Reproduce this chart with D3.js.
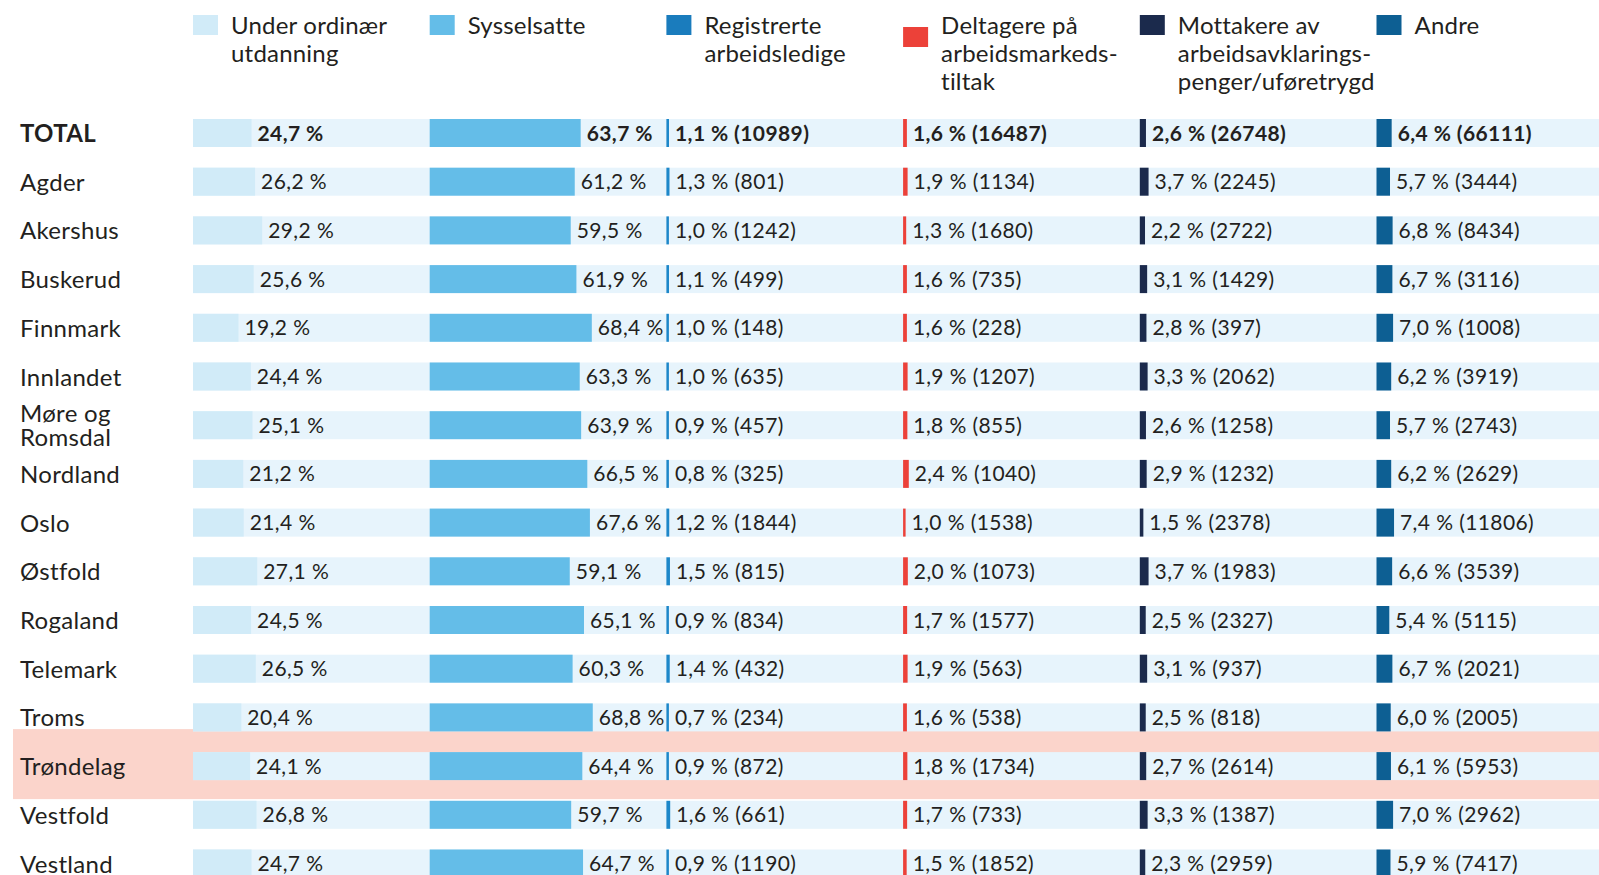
<!DOCTYPE html>
<html>
<head>
<meta charset="utf-8">
<script src="https://cdn.jsdelivr.net/npm/d3@7"></script>
<style>
  body { margin: 0; background: #fff; }
  svg { display: block; font-family: Lato, "Open Sans", sans-serif; }
  .label { font-size: 24px; fill: #231f20; letter-spacing: 0.3px; }
  .val { font-size: 21px; fill: #231f20; letter-spacing: 0.4px; }
  .legend { font-size: 24px; fill: #231f20; letter-spacing: 0.2px; }
  .bold { font-weight: 700; }
</style>
</head>
<body>
<div id="chart"></div>
<script>
// regions (rows)
let regions = ['TOTAL', 'Agder', 'Akershus', 'Buskerud', 'Finnmark', 'Innlandet', 'Møre og Romsdal',
    'Nordland', 'Oslo', 'Østfold', 'Rogaland', 'Telemark', 'Troms', 'Trøndelag', 'Vestfold', 'Vestland']

// shares in percent
let utdanning = [24.7, 26.2, 29.2, 25.6, 19.2, 24.4, 25.1, 21.2, 21.4, 27.1, 24.5, 26.5, 20.4, 24.1, 26.8, 24.7]
let sysselsatte = [63.7, 61.2, 59.5, 61.9, 68.4, 63.3, 63.9, 66.5, 67.6, 59.1, 65.1, 60.3, 68.8, 64.4, 59.7, 64.7]
let registrerte = [1.1, 1.3, 1.0, 1.1, 1.0, 1.0, 0.9, 0.8, 1.2, 1.5, 0.9, 1.4, 0.7, 0.9, 1.6, 0.9]
let deltagere = [1.6, 1.9, 1.3, 1.6, 1.6, 1.9, 1.8, 2.4, 1.0, 2.0, 1.7, 1.9, 1.6, 1.8, 1.7, 1.5]
let mottakere = [2.6, 3.7, 2.2, 3.1, 2.8, 3.3, 2.6, 2.9, 1.5, 3.7, 2.5, 3.1, 2.5, 2.7, 3.3, 2.3]
let andre = [6.4, 5.7, 6.8, 6.7, 7.0, 6.2, 5.7, 6.2, 7.4, 6.6, 5.4, 6.7, 6.0, 6.1, 7.0, 5.9]

// counts (persons)
let registrerteN = [10989, 801, 1242, 499, 148, 635, 457, 325, 1844, 815, 834, 432, 234, 872, 661, 1190]
let deltagereN = [16487, 1134, 1680, 735, 228, 1207, 855, 1040, 1538, 1073, 1577, 563, 538, 1734, 733, 1852]
let mottakereN = [26748, 2245, 2722, 1429, 397, 2062, 1258, 1232, 2378, 1983, 2327, 937, 818, 2614, 1387, 2959]
let andreN = [66111, 3444, 8434, 3116, 1008, 3919, 2743, 2629, 11806, 3539, 5115, 2021, 2005, 5953, 2962, 7417]

let legendLabels = [
    ['Under ordinær', 'utdanning'],
    ['Sysselsatte'],
    ['Registrerte', 'arbeidsledige'],
    ['Deltagere på', 'arbeidsmarkeds-', 'tiltak'],
    ['Mottakere av', 'arbeidsavklarings-', 'penger/uføretrygd'],
    ['Andre']
]
let highlight = 'Trøndelag'

let series = [
    { key: 'utd', pct: utdanning, n: null, color: '#d1ebf8' },
    { key: 'sys', pct: sysselsatte, n: null, color: '#64bde8' },
    { key: 'reg', pct: registrerte, n: registrerteN, color: '#1d87c9' },
    { key: 'del', pct: deltagere, n: deltagereN, color: '#ec4139' },
    { key: 'mot', pct: mottakere, n: mottakereN, color: '#1b2a4c' },
    { key: 'and', pct: andre, n: andreN, color: '#0d5f93' }
]

let svgWidth = 1599
let svgHeight = 875

let svg = d3.select('#chart').append('svg')
    .attr('width', svgWidth)
    .attr('height', svgHeight)

let col = d3.scaleBand()
    .domain(series.map(s => s.key))
    .range([193, 193 + 6 * 236.7])

let y = d3.scalePoint()
    .domain(regions)
    .range([133, 133 + 15 * 48.7])

let x = d3.scaleLinear()
    .domain([0, 10])
    .range([0, 23.7])

let bandH = 28
let fmt = v => d3.format('.1f')(v).replace('.', ',') + ' %'

// highlighted row
svg.append('rect')
    .attr('x', 13)
    .attr('y', y(highlight) - 37)
    .attr('width', svgWidth - 13)
    .attr('height', 70)
    .attr('fill', '#fbd4cb')

// row backgrounds
svg.append('g')
    .selectAll('rect')
    .data(regions)
    .enter()
    .append('rect')
    .attr('x', col('utd'))
    .attr('y', d => y(d) - bandH / 2)
    .attr('width', svgWidth - col('utd'))
    .attr('height', bandH)
    .attr('fill', '#e7f4fc')

// row labels
let labels = svg.append('g')
    .selectAll('text')
    .data(regions)
    .enter()
    .append('text')
    .attr('class', (d, i) => 'label' + (i == 0 ? ' bold' : ''))
    .attr('x', 20)
    .attr('y', d => y(d) + 9)
labels.each(function(d) {
    let t = d3.select(this)
    if (d == 'Møre og Romsdal') {
        t.attr('y', y(d) - 3)
        t.append('tspan').attr('x', 20).text('Møre og')
        t.append('tspan').attr('x', 20).attr('dy', 24).text('Romsdal')
    } else {
        t.text(d)
    }
})

// bars + values per column
series.forEach(s => {
    let g = svg.append('g')
        .attr('transform', `translate(${col(s.key)}, 0)`)

    g.selectAll('rect')
        .data(regions)
        .enter()
        .append('rect')
        .attr('x', 0)
        .attr('y', d => y(d) - bandH / 2)
        .attr('width', (d, i) => Math.max(2.5, x(s.pct[i])))
        .attr('height', bandH)
        .attr('fill', s.color)

    g.selectAll('text')
        .data(regions)
        .enter()
        .append('text')
        .attr('class', (d, i) => 'val' + (i == 0 ? ' bold' : ''))
        .attr('x', (d, i) => Math.max(2.5, x(s.pct[i])) + 6)
        .attr('y', d => y(d) + 7.5)
        .text((d, i) => fmt(s.pct[i]) + (s.n ? ' (' + s.n[i] + ')' : ''))
})

// legend
let leg = svg.append('g')
    .selectAll('g')
    .data(series)
    .enter()
    .append('g')
    .attr('transform', d => `translate(${col(d.key)}, 0)`)

leg.append('rect')
    .attr('x', 0)
    .attr('y', d => d.key == 'del' ? 27 : 15)
    .attr('width', 25)
    .attr('height', 20)
    .attr('fill', d => d.key == 'utd' ? '#d1ebf8' : d.key == 'reg' ? '#1a7cbd' : d.color)

leg.append('text')
    .attr('class', 'legend')
    .attr('y', 34)
    .selectAll('tspan')
    .data((d, i) => legendLabels[i])
    .enter()
    .append('tspan')
    .attr('x', 38)
    .attr('dy', (d, i) => i == 0 ? 0 : 28)
    .text(d => d)
</script>
</body>
</html>
